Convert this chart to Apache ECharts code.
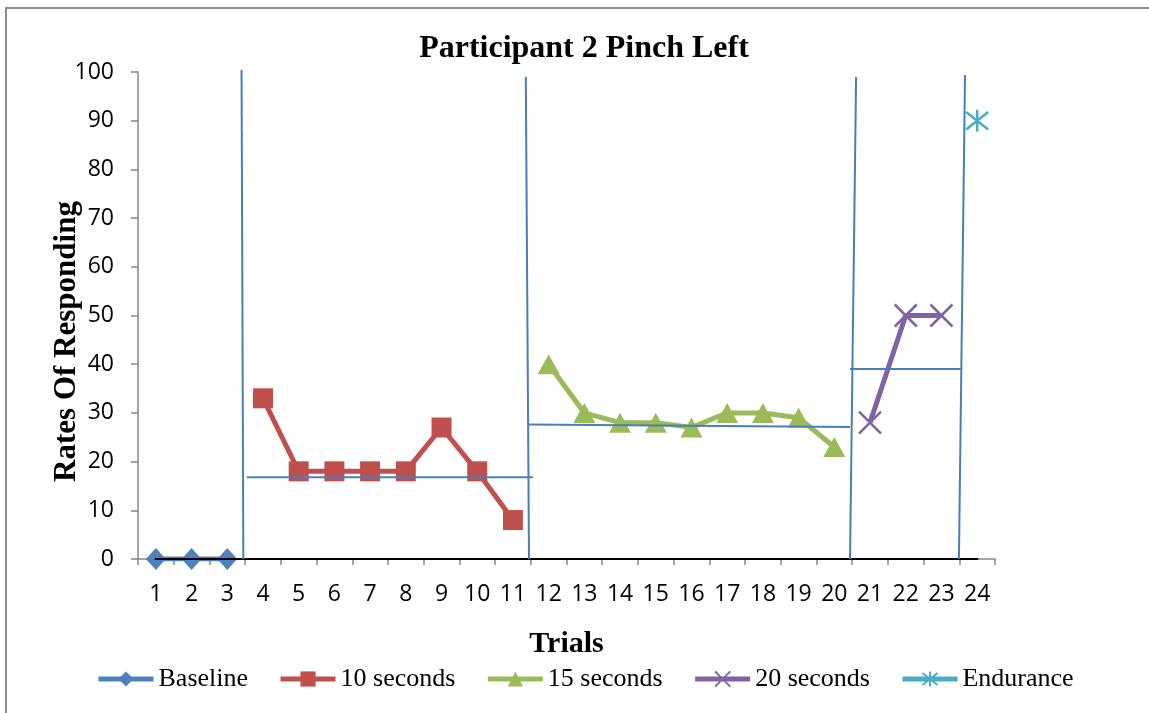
<!DOCTYPE html>
<html>
<head>
<meta charset="utf-8">
<script src="https://cdn.jsdelivr.net/npm/echarts@6/dist/echarts.min.js"></script>
<style>
  html, body { margin: 0; padding: 0; background: #fff; }
  #chart { width: 1149px; height: 713px; }
</style>
</head>
<body>
<div id="chart"></div>
<script>
// Trial numbers on the category axis
const trials = ['1','2','3','4','5','6','7','8','9','10','11','12','13','14','15','16','17','18','19','20','21','22','23','24'];

// Rates of responding per phase (null where the phase does not apply)
const baseline  = [0, 0, 0, null, null, null, null, null, null, null, null, null, null, null, null, null, null, null, null, null, null, null, null, null];
const tenSec    = [null, null, null, 33, 18, 18, 18, 18, 27, 18, 8, null, null, null, null, null, null, null, null, null, null, null, null, null];
const fifteenSec= [null, null, null, null, null, null, null, null, null, null, null, 40, 30, 28, 28, 27, 30, 30, 29, 23, null, null, null, null];
const twentySec = [null, null, null, null, null, null, null, null, null, null, null, null, null, null, null, null, null, null, null, null, 28, 50, 50, null];
const endurance = [null, null, null, null, null, null, null, null, null, null, null, null, null, null, null, null, null, null, null, null, null, null, null, 90];

// Phase-change lines, in trial units ([x, y] top then bottom)
const phaseLines = [
  [[3.40, 100.4], [3.45, 0]],
  [[11.36, 99.0], [11.45, 0]],
  [[20.61, 99.0], [20.44, 0]],
  [[23.66, 99.4], [23.49, 0]]
];

// Phase mean lines ([x, y] start then end)
const meanLines = [
  [[3.55, 16.8], [11.56, 16.8]],
  [[11.42, 27.6], [20.44, 27.1]],
  [[20.44, 39.0], [23.58, 39.0]]
];

// Black baseline drawn along the horizontal axis
const zeroLine = [[0.97, 0], [24.03, 0]];

const yTicks = { min: 0, max: 100, interval: 10 };

const C = {
  blue: '#4F81BD', red: '#C0504D', green: '#9BBB59', purple: '#8064A2', aqua: '#4BACC6',
  rule: '#4A7EBB', axis: '#868686'
};

const serif = '"Liberation Serif", "Times New Roman", serif';
const sans = '"Open Sans", "Liberation Sans", sans-serif';

function dataSeries(name, data, color, symbol, size, extra) {
  return Object.assign({
    name, type: 'line', data, xAxisIndex: 0, yAxisIndex: 0,
    connectNulls: false,
    symbol, symbolSize: size,
    lineStyle: { color, width: 5 },
    itemStyle: { color },
    z: 3
  }, extra || {});
}

function ruleSeries(data, color, width, z) {
  return {
    type: 'line', data, xAxisIndex: 1, yAxisIndex: 0,
    symbol: 'none', silent: true, clip: false,
    lineStyle: { color, width },
    z
  };
}

const xMark = 'path://M0,0L10,10M10,0L0,10';
const starMark = 'path://M5,0L5,10M0,1L10,9M0,9L10,1';

const option = {
  animation: false,
  backgroundColor: '#fff',
  title: {
    text: 'Participant 2 Pinch Left',
    left: 579, top: 28, textAlign: 'center',
    textStyle: { fontFamily: serif, fontWeight: 'bold', fontSize: 32, color: '#000' }
  },
  graphic: [{
    type: 'polyline', silent: true,
    shape: { points: [[6, 713], [6, 8], [1149, 8]] },
    style: { stroke: '#8c8c8c', lineWidth: 2, fill: null }
  }],
  grid: { left: 138, right: 154, top: 72, bottom: 154 },
  legend: {
    left: 96, top: 666, padding: 0,
    itemWidth: 55, itemHeight: 19, itemGap: 30,
    lineStyle: { width: 5 },
    data: ['Baseline', '10 seconds', '15 seconds', '20 seconds', 'Endurance'],
    textStyle: { fontFamily: serif, fontSize: 26, color: '#000' }
  },
  xAxis: [{
    type: 'category', data: trials, boundaryGap: true,
    name: 'Trials', nameLocation: 'middle', nameGap: 70,
    nameTextStyle: { fontFamily: serif, fontWeight: 'bold', fontSize: 30, color: '#000' },
    axisLine: { lineStyle: { color: C.axis, width: 1.5 } },
    axisTick: { show: true, alignWithLabel: false, length: 6, lineStyle: { color: C.axis, width: 1.5 } },
    axisLabel: { fontFamily: sans, fontSize: 23, color: '#000', margin: 24, interval: 0 },
    splitLine: { show: false }
  }, {
    type: 'value', min: 0.5, max: 24.5, show: false
  }],
  yAxis: [{
    type: 'value', min: yTicks.min, max: yTicks.max, interval: yTicks.interval,
    name: 'Rates Of Responding', nameLocation: 'middle', nameGap: 56, nameRotate: 90,
    nameMoveOverlap: false,
    nameTextStyle: { fontFamily: serif, fontWeight: 'bold', fontSize: 31, color: '#000', padding: [0, 52, 0, 0] },
    axisLine: { show: true, lineStyle: { color: C.axis, width: 1.5 } },
    axisTick: { show: true, length: 7, lineStyle: { color: C.axis, width: 1.5 } },
    axisLabel: { fontFamily: sans, fontSize: 23, color: '#000', margin: 24 },
    splitLine: { show: false }
  }],
  series: [
    dataSeries('Baseline', baseline, C.blue, 'diamond', [20, 22]),
    dataSeries('10 seconds', tenSec, C.red, 'rect', 20),
    dataSeries('15 seconds', fifteenSec, C.green, 'triangle', [22, 20]),
    dataSeries('20 seconds', twentySec, C.purple, xMark, 22, {
      itemStyle: { color: 'none', borderColor: C.purple, borderWidth: 2.5 }
    }),
    dataSeries('Endurance', endurance, C.aqua, starMark, 22, {
      itemStyle: { color: 'none', borderColor: C.aqua, borderWidth: 2.5 }
    }),
    ruleSeries(zeroLine, '#000', 2, 4),
    ...meanLines.map(d => ruleSeries(d, C.rule, 2, 5)),
    ...phaseLines.map(d => ruleSeries(d, C.rule, 2, 5))
  ]
};

const chart = echarts.init(document.getElementById('chart'), null, { renderer: 'canvas' });
chart.setOption(option);
</script>
</body>
</html>
